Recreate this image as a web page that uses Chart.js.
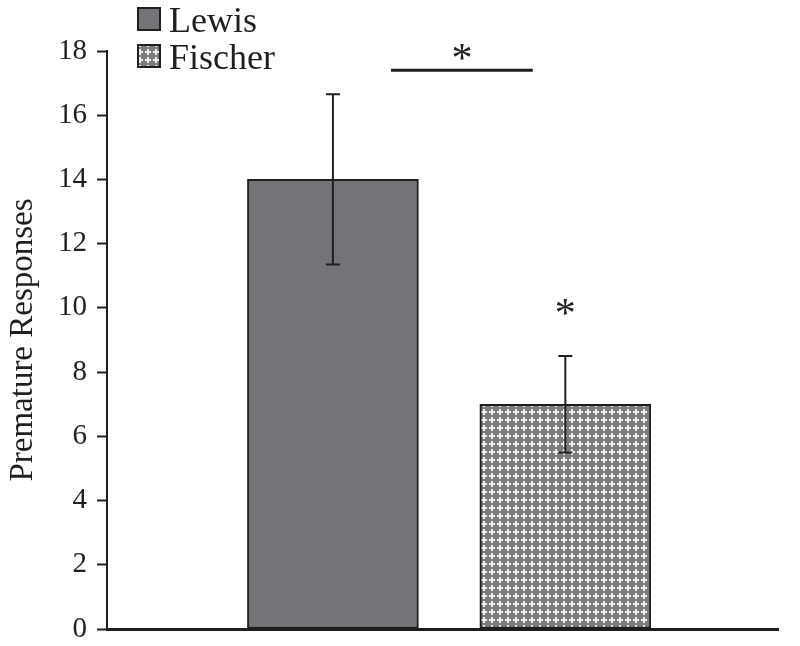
<!DOCTYPE html>
<html>
<head>
<meta charset="utf-8">
<script src="https://cdn.jsdelivr.net/npm/chart.js@4/dist/chart.umd.min.js"></script>
<style>
  html, body { margin: 0; padding: 0; background: #fff; }
  #wrap { width: 800px; height: 646px; }
</style>
</head>
<body>
<div id="wrap"><canvas id="chart"></canvas></div>
<script>
// Premature responses, Lewis vs Fischer — bar chart with SEM error bars
const groups = ['Lewis', 'Fischer'];
const groupPos = [1, 2];
const means = [14, 7];
const errLow = [11.35, 5.5];
const errHigh = [16.65, 8.5];
const yTicks = [0, 2, 4, 6, 8, 10, 12, 14, 16, 18];
// significance: bracket between groups, plus a star over Fischer
const bracketX = [1.25, 1.86];
const bracketY = 17.4;
const starOverBar = { x: 2, y: 10 };

const SERIF = '"Liberation Serif", "DejaVu Serif", serif';
const INK = '#1f1f1f';

// checkered fill used for Fischer
function makePattern() {
    const c = document.createElement('canvas');
    c.width = 8; c.height = 8;
    const g = c.getContext('2d');
    g.fillStyle = '#7c7c7c';
    g.fillRect(0, 0, 8, 8);
    g.fillStyle = '#ededed';
    g.fillRect(3, 1, 2, 6);
    g.fillRect(1, 3, 6, 2);
    return g.createPattern(c, 'repeat');
}
const checker = makePattern();
const fills = ['#747478', checker];

// ── error bars, significance marks, legend ───────────────────────
const extras = {
    id: 'extras',
    afterDatasetsDraw(chart) {
        const { ctx, scales: { x, y } } = chart;
        ctx.save();
        ctx.strokeStyle = INK;
        ctx.lineWidth = 2;
        groupPos.forEach((p, i) => {
            const px = x.getPixelForValue(p);
            const top = y.getPixelForValue(errHigh[i]);
            const bot = y.getPixelForValue(errLow[i]);
            ctx.beginPath();
            ctx.moveTo(px, top); ctx.lineTo(px, bot);
            ctx.moveTo(px - 7, top); ctx.lineTo(px + 7, top);
            ctx.moveTo(px - 7, bot); ctx.lineTo(px + 7, bot);
            ctx.stroke();
        });

        // bracket line + star
        ctx.lineWidth = 3;
        const by = y.getPixelForValue(bracketY);
        const bx0 = x.getPixelForValue(bracketX[0]);
        const bx1 = x.getPixelForValue(bracketX[1]);
        ctx.beginPath();
        ctx.moveTo(bx0, by); ctx.lineTo(bx1, by);
        ctx.stroke();
        ctx.fillStyle = INK;
        ctx.font = '42px ' + SERIF;
        ctx.textAlign = 'center';
        ctx.textBaseline = 'alphabetic';
        ctx.fillText('*', (bx0 + bx1) / 2, by + 2);
        ctx.fillText('*', x.getPixelForValue(starOverBar.x), y.getPixelForValue(starOverBar.y) + 19);

        // legend, top-left
        ctx.font = '36px ' + SERIF;
        ctx.textAlign = 'left';
        ctx.lineWidth = 2;
        chart.data.datasets.forEach((ds, i) => {
            const sy = 8 + i * 37;
            ctx.fillStyle = ds.backgroundColor;
            ctx.fillRect(138, sy, 22, 22);
            ctx.strokeRect(138, sy, 22, 22);
            ctx.fillStyle = INK;
            ctx.fillText(ds.label, 169, sy + 24);
        });
        ctx.restore();
    }
};

new Chart(document.getElementById('chart'), {
    type: 'bar',
    data: {
        datasets: groups.map((g, i) => ({
            label: g,
            data: [{ x: groupPos[i], y: means[i] }],
            backgroundColor: fills[i],
            borderColor: INK,
            borderWidth: 2,
            borderSkipped: false,
            barThickness: 171,
        }))
    },
    options: {
        responsive: true, maintainAspectRatio: false,
        animation: false,
        layout: { padding: { top: 51, right: 22, bottom: 0, left: 4 } },
        plugins: { legend: { display: false }, tooltip: { enabled: false } },
        datasets: { bar: { grouped: false } },
        scales: {
            x: {
                type: 'linear', min: 0.028, max: 2.915, offset: false,
                ticks: { display: false },
                grid: { display: false },
                border: { display: true, color: INK, width: 3 },
                afterFit: s => { s.height = 17; }
            },
            y: {
                min: 0, max: 18,
                afterBuildTicks: s => { s.ticks = yTicks.map(v => ({ value: v })); },
                ticks: { color: INK, padding: 10, font: { family: SERIF, size: 29 } },
                grid: { drawOnChartArea: false, drawTicks: true, tickLength: 10, color: INK, tickWidth: 2 },
                border: { display: true, color: INK, width: 2 },
                title: { display: true, text: 'Premature Responses', color: INK, font: { family: SERIF, size: 33 }, padding: 0 },
                afterFit: s => { s.width = 103; s.paddingTop = 0; s.paddingBottom = 0; }
            }
        }
    },
    plugins: [extras]
});
</script>
</body>
</html>
